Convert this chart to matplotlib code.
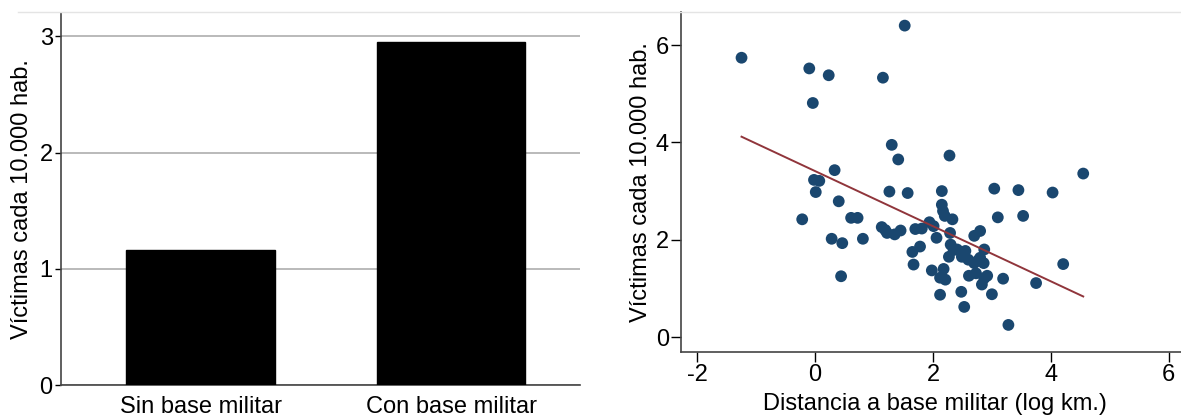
import matplotlib.pyplot as plt
import numpy as np

plt.rcParams['font.family'] = ['Liberation Sans', 'DejaVu Sans']
plt.rcParams['axes.unicode_minus'] = False

# bar chart data
categories = ['Sin base militar', 'Con base militar']
rates = [1.16, 2.95]

# scatter data: log distance to military base vs victims per 10,000 inhabitants
dist = [-1.25, -0.10, 0.23, -0.04, 1.15, 1.52, 1.30, 1.41, 2.28, 0.33,
        -0.02, 0.07, 0.01, 0.40, -0.22, 1.26, 1.57, 2.15, 3.04, 3.45,
        4.03, 4.55, 3.10, 3.53, 4.21, 3.75, 3.19, 3.00, 3.28, 2.53,
        2.48, 2.12, 0.44, 0.28, 0.46, 0.81, 0.61, 0.72, 1.13, 1.19,
        1.22, 1.35, 1.45, 1.70, 1.81, 1.94, 2.01, 2.06, 2.15, 2.17,
        2.20, 2.33, 2.29, 2.30, 2.27, 2.41, 2.55, 2.60, 2.70, 2.80,
        2.87, 2.80, 2.70, 2.86, 2.61, 2.73, 2.92, 2.83, 1.65, 1.78,
        1.67, 1.98, 2.18, 2.12, 2.21, 2.35, 2.49, 2.77, 2.87]
victims = [5.74, 5.52, 5.38, 4.81, 5.33, 6.40, 3.95, 3.65, 3.73, 3.43,
           3.23, 3.21, 2.98, 2.79, 2.42, 2.99, 2.96, 3.00, 3.05, 3.02,
           2.97, 3.36, 2.46, 2.49, 1.50, 1.11, 1.20, 0.88, 0.25, 0.62,
           0.93, 0.87, 1.25, 2.02, 1.93, 2.02, 2.45, 2.45, 2.26, 2.20,
           2.14, 2.11, 2.19, 2.22, 2.23, 2.36, 2.28, 2.04, 2.72, 2.59,
           2.49, 2.42, 2.14, 1.90, 1.65, 1.80, 1.77, 1.59, 2.08, 2.18,
           1.80, 1.63, 1.52, 1.52, 1.26, 1.31, 1.26, 1.08, 1.75, 1.86,
           1.49, 1.37, 1.40, 1.22, 1.18, 1.79, 1.65, 1.58, 1.21]

# fitted line
fit_intercept = 3.41
fit_slope = -0.566

ylabel = 'Víctimas cada 10.000 hab.'
fs = 17

fig = plt.figure(figsize=(11.81, 4.16), dpi=100)

# faint frame line at the top of the graph region
fig.add_artist(plt.Line2D([0.015, 1.0], [0.971, 0.971], transform=fig.transFigure,
                          color='#e4e4e4', linewidth=1))

# left: bar chart
ax1 = fig.add_axes([0.0517, 0.0745, 0.4395, 0.894])
xpos = np.arange(len(categories))
ax1.bar(xpos, rates, width=0.594, color='black', edgecolor='black', zorder=3)
ax1.set_xlim(-0.557, 1.515)
ax1.set_ylim(0, 3.2)
ax1.set_yticks([0, 1, 2, 3])
ax1.set_xticks(xpos)
ax1.set_xticklabels(categories, fontsize=fs)
ax1.tick_params(axis='x', length=0, pad=8)
ax1.tick_params(axis='y', labelsize=fs, length=4, width=1, pad=2)
ax1.yaxis.grid(True, color='#b4b4b4', linewidth=1.3, zorder=0)
ax1.set_axisbelow(True)
for s in ['top', 'right']:
    ax1.spines[s].set_visible(False)
ax1.spines['left'].set_color('#444444')
ax1.spines['bottom'].set_color('#444444')
ax1.spines['left'].set_linewidth(1.2)
ax1.spines['bottom'].set_linewidth(1.2)
ax1.set_ylabel(ylabel, fontsize=fs, labelpad=5)

# right: scatter with fitted line
ax2 = fig.add_axes([0.577, 0.1546, 0.43, 0.8166])
x = np.array(dist)
y = np.array(victims)
ax2.scatter(x, y, s=72, color='#1a476f', edgecolors='none', zorder=3)
xx = np.array([x.min(), x.max()])
ax2.plot(xx, fit_intercept + fit_slope * xx, color='#90353b', linewidth=1.4, zorder=4)
ax2.set_xlim(-2.27, 6.35)
ax2.set_ylim(-0.30, 6.68)
ax2.set_xticks([-2, 0, 2, 4, 6])
ax2.set_yticks([0, 2, 4, 6])
ax2.tick_params(labelsize=fs, length=7, width=1, pad=2)
for s in ['top', 'right']:
    ax2.spines[s].set_visible(False)
ax2.spines['left'].set_color('#444444')
ax2.spines['bottom'].set_color('#444444')
ax2.spines['left'].set_linewidth(1.2)
ax2.spines['bottom'].set_linewidth(1.2)
ax2.set_ylabel(ylabel, fontsize=fs, labelpad=3)
ax2.set_xlabel('Distancia a base militar (log km.)', fontsize=fs, labelpad=5)

fig.savefig('out.png', dpi=100)
